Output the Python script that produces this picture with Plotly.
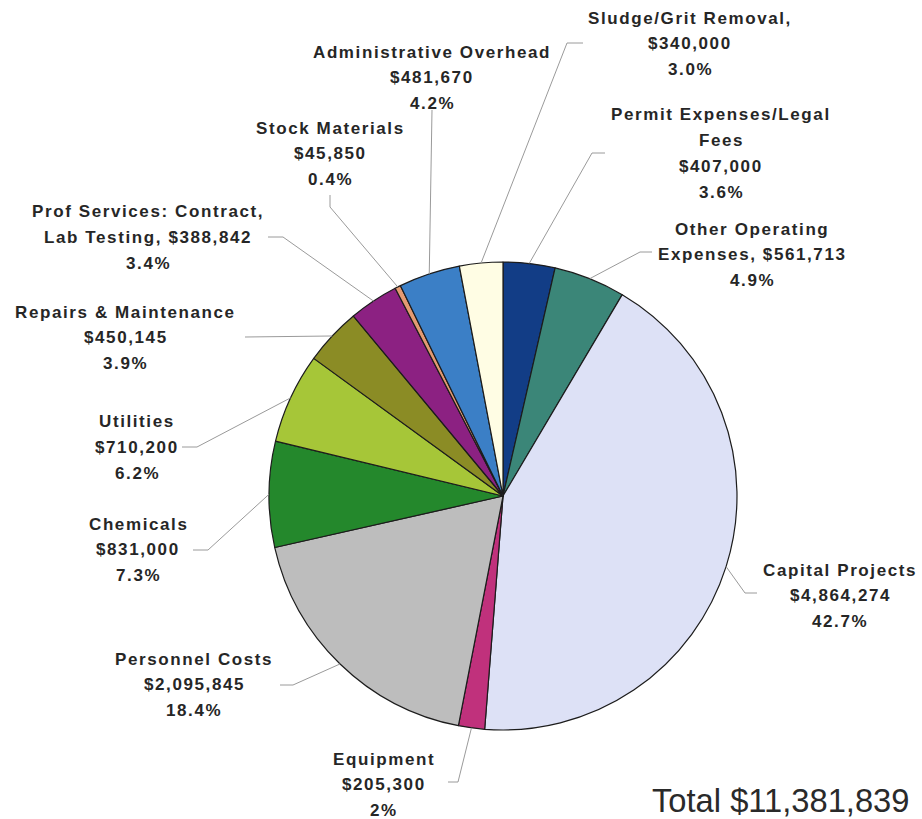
import math
import plotly.graph_objects as go

# Budget categories, in clockwise order starting at 12 o'clock
categories = [
    "Permit Expenses/Legal Fees", "Other Operating Expenses", "Capital Projects",
    "Equipment", "Personnel Costs", "Chemicals", "Utilities",
    "Repairs & Maintenance", "Prof Services: Contract, Lab Testing",
    "Stock Materials", "Administrative Overhead", "Sludge/Grit Removal",
]
amounts = [407000, 561713, 4864274, 205300, 2095845, 831000, 710200,
           450145, 388842, 45850, 481670, 340000]
pct_labels = ["3.6%", "4.9%", "42.7%", "2%", "18.4%", "7.3%", "6.2%",
              "3.9%", "3.4%", "0.4%", "4.2%", "3.0%"]
slice_colors = ["#123d86", "#3b8678", "#dde1f6", "#c0317c", "#bdbdbd", "#24882c",
                "#a6c638", "#8b8c25", "#8c2182", "#e49a72", "#3b7fc6", "#fffde4"]

# Figure geometry (pixels)
W, H = 922, 819
CX, CY, R = 503, 496, 234


def px(x, y):
    return x / W, 1 - y / H


def money(v):
    return f"${v:,.0f}"


# Text lines of each slice label
def label_lines(i):
    m, p = money(amounts[i]), pct_labels[i]
    name = categories[i]
    if i == 0:
        return ["Permit Expenses/Legal", "Fees", m, p]
    if i == 1:
        return ["Other Operating", f"Expenses, {m}", p]
    if i == 8:
        return ["Prof Services: Contract,", f"Lab Testing, {m}", p]
    if i == 11:
        return [f"{name},", m, p]
    return [name, m, p]


# Label block placement: (center x, first line y)
label_pos = {
    0: (721, 115), 1: (752, 229), 2: (840, 570), 3: (384, 759),
    4: (194, 659), 5: (138, 524), 6: (137, 422), 7: (126, 312),
    8: (148, 212), 9: (330, 128), 10: (432, 52), 11: (690, 18),
}
# Leader line bends and ends (pixels)
leader_pts = {
    0: [(592, 153), (605, 153)],
    1: [(640, 252), (652, 252)],
    2: [(745, 593), (757, 593)],
    3: [(458, 782), (448, 782)],
    4: [(293, 685), (280, 685)],
    5: [(208, 550), (193, 550)],
    6: [(197, 447), (182, 447)],
    7: [(245, 337)],
    8: [(283, 237), (268, 237)],
    9: [(330, 207), (330, 195)],
    10: [(432, 110)],
    11: [(567, 43), (583, 43)],
}
LINE_GAP = 25.8

fig = go.Figure()
x0, y1 = px(CX - R, CY - R)
x1, y0 = px(CX + R, CY + R)
fig.add_trace(go.Pie(
    labels=categories, values=amounts, sort=False, direction="clockwise",
    rotation=0, textinfo="none", hoverinfo="label+value+percent",
    marker=dict(colors=slice_colors, line=dict(color="#1c1c1c", width=1.2)),
    domain=dict(x=[x0, x1], y=[y0, y1]), showlegend=False,
))

total = sum(amounts)
annotations = []
shapes = []
cum = 0.0
for i, v in enumerate(amounts):
    mid = (cum + v / 2) / total * 2 * math.pi
    cum += v
    ex = CX + R * math.sin(mid)
    ey = CY - R * math.cos(mid)
    pts = [(ex, ey)] + leader_pts[i]
    for (ax, ay), (bx, by) in zip(pts[:-1], pts[1:]):
        xa, ya = px(ax, ay)
        xb, yb = px(bx, by)
        shapes.append(dict(type="line", xref="paper", yref="paper",
                           x0=xa, y0=ya, x1=xb, y1=yb,
                           line=dict(color="#9a9a9a", width=1)))
    lx, ly = label_pos[i]
    for k, line in enumerate(label_lines(i)):
        xp, yp = px(lx, ly + k * LINE_GAP)
        annotations.append(dict(
            x=xp, y=yp, xref="paper", yref="paper", showarrow=False,
            xanchor="center", yanchor="middle",
            text=f'<span style="letter-spacing:1.6px">{line}</span>',
            font=dict(family="Liberation Sans, Arial, sans-serif", size=17,
                      color="#262626", weight="bold"),
        ))

tx, ty = px(780, 800)
annotations.append(dict(
    x=tx, y=ty, xref="paper", yref="paper", showarrow=False,
    xanchor="center", yanchor="middle", text=f"Total {money(total)}",
    font=dict(family="Liberation Sans, Arial, sans-serif", size=32.7, color="#2a2a2a"),
))

fig.update_layout(
    width=W, height=H, margin=dict(l=0, r=0, t=0, b=0),
    paper_bgcolor="white", plot_bgcolor="white",
    annotations=annotations, shapes=shapes,
)
fig.write_html("out.html")
